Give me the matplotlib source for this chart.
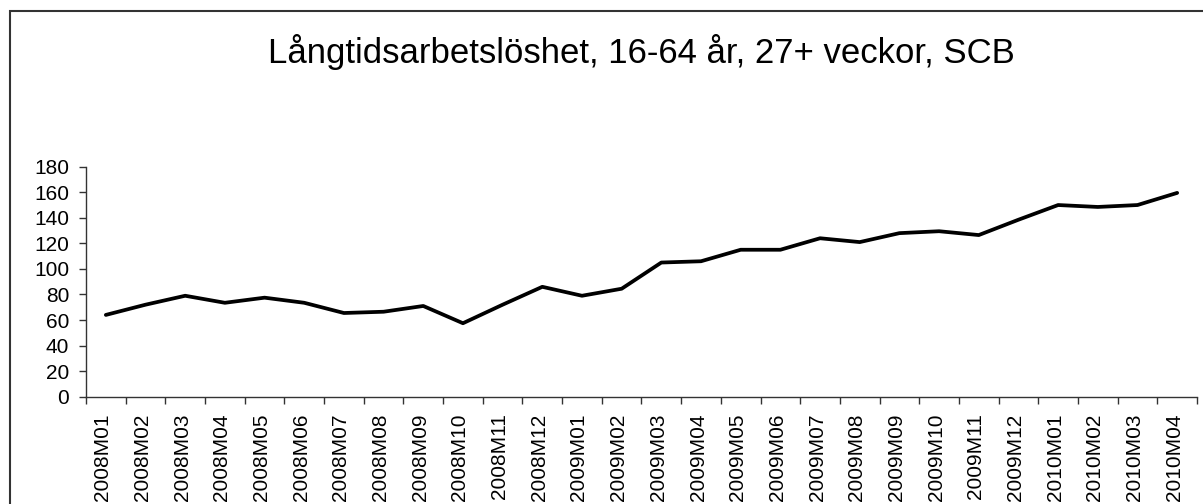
import matplotlib
matplotlib.use("Agg")
import matplotlib.pyplot as plt
import matplotlib.transforms as mtransforms
from matplotlib.patches import Rectangle
import numpy as np

plt.rcParams['font.family'] = ['Liberation Sans', 'DejaVu Sans']

months = ["2008M01", "2008M02", "2008M03", "2008M04", "2008M05", "2008M06", "2008M07",
          "2008M08", "2008M09", "2008M10", "2008M11", "2008M12", "2009M01", "2009M02",
          "2009M03", "2009M04", "2009M05", "2009M06", "2009M07", "2009M08", "2009M09",
          "2009M10", "2009M11", "2009M12", "2010M01", "2010M02", "2010M03", "2010M04"]
values = [64, 72, 79, 73.5, 77.5, 73.5, 65.5, 66.5, 71, 57.5, 72, 86, 79, 84.5,
          105, 106, 115, 115, 124, 121, 128, 129.5, 126.5, 138.5, 150, 148.5, 150, 159.5]
yticks = list(range(0, 181, 20))
title = "Långtidsarbetslöshet, 16-64 år, 27+ veckor, SCB"

W, H = 1203, 504
fig = plt.figure(figsize=(W / 100, H / 100), dpi=100)
ax = fig.add_axes([86 / W, 1 - 396.7 / H, (1197 - 86) / W, 230 / H])

x = np.arange(len(months))
ax.plot(x, values, color="black", lw=2.7, solid_joinstyle="round", solid_capstyle="round")

ax.set_xlim(-0.5, len(months) - 0.5)
ax.set_ylim(0, 180)
ax.set_yticks(yticks)
ax.set_xticks(x)
ax.set_xticklabels(months, rotation=90, fontsize=15)
ax.set_xticks(np.arange(len(months) + 1) - 0.5, minor=True)
ax.tick_params(axis="x", which="major", length=0, pad=12)
ax.tick_params(axis="x", which="minor", length=5, width=1, color="#333333", direction="out")
ax.tick_params(axis="y", length=5, width=1, color="#333333", labelsize=15, pad=7)

shift = mtransforms.ScaledTranslation(-3 / 100, 0, fig.dpi_scale_trans)
for lbl in ax.get_xticklabels():
    lbl.set_transform(lbl.get_transform() + shift)

for s in ["top", "right"]:
    ax.spines[s].set_visible(False)
for s in ["left", "bottom"]:
    ax.spines[s].set_color("#333333")
    ax.spines[s].set_linewidth(1)

fig.text(641.5 / W, 1 - 63 / H, title, ha="center", va="baseline", fontsize=25)

fig.patches.append(Rectangle((9.5 / W, -0.1), 1.2, 1 - 10.5 / H + 0.1,
                             transform=fig.transFigure, fill=False,
                             edgecolor="#333333", lw=1.5))

fig.savefig("out.png", dpi=100, facecolor="white")
